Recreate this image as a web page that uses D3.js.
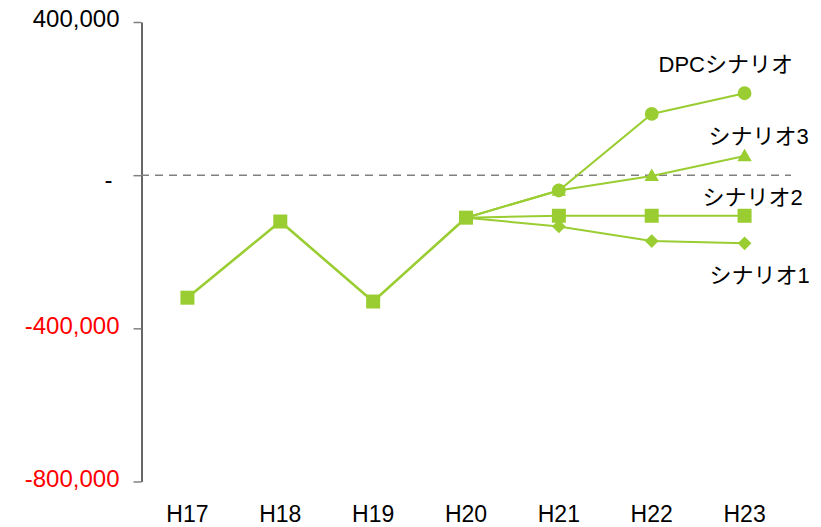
<!DOCTYPE html>
<html>
<head>
<meta charset="utf-8">
<script src="https://cdn.jsdelivr.net/npm/d3@7"></script>
<style>
  html, body { margin: 0; padding: 0; background: #fff; }
  svg { display: block; }
  text { font-family: "Liberation Sans", Arial, "Noto Sans CJK JP", sans-serif; }
</style>
</head>
<body>
<svg id="chart" width="821" height="527"></svg>
<script>
// Fiscal years on the x axis
const categories = ["H17", "H18", "H19", "H20", "H21", "H22", "H23"];
// Recorded values H17–H20, shared by all scenarios
const actual = [-320000, -121000, -330000, -111000];
// Projections H21–H23, each branching from the H20 value
const forecastYears = ["H21", "H22", "H23"];
const scenario1 = [-134000, -172000, -178000];
const scenario2 = [-106000, -106000, -106000];
const scenario3 = [-40000, -2000, 50000];
const dpcScenario = [-40000, 160000, 214000];
const seriesNames = ["シナリオ1", "シナリオ2", "シナリオ3", "DPCシナリオ"];
// Y axis ticks
const yTicks = [400000, 0, -400000, -800000];

const green = "#9acd32";
const svg = d3.select("#chart");

const x = d3.scaleBand().domain(categories).range([141, 791]).padding(0);
const y = d3.scaleLinear().domain([-800000, 400000]).range([481.5, 22]);
const cx = c => x(c) + x.bandwidth() / 2;

// Accounting-style number format: plain hyphen for negatives, "-" for zero
const fmt = d => d === 0 ? "-" : (d < 0 ? "-" : "") + d3.format(",")(Math.abs(d));

// Y axis
const yAxis = d3.axisLeft(y)
  .tickValues(yTicks)
  .tickSize(8)
  .tickSizeOuter(0)
  .tickPadding(14)
  .tickFormat(fmt);
const yg = svg.append("g").attr("transform", "translate(141.5,0)").call(yAxis);
yg.select(".domain").attr("stroke", "#000").attr("stroke-width", 1.2);
yg.selectAll(".tick line").attr("stroke", "#808080").attr("stroke-width", 1.5);
yg.selectAll(".tick text")
  .attr("font-size", 24)
  .attr("font-family", "'Liberation Sans', Arial, sans-serif")
  .attr("fill", d => d < 0 ? "#ff0000" : "#000")
  .attr("dx", d => d === 0 ? -7 : 0)
  .attr("dy", d => d === 0 ? "0.5em" : "0.2em");

// Zero reference line
svg.append("line")
  .attr("x1", 141).attr("x2", 791)
  .attr("y1", y(0)).attr("y2", y(0))
  .attr("stroke", "#808080")
  .attr("stroke-width", 1.5)
  .attr("stroke-dasharray", "8,6");

// X labels (no axis line)
const xg = svg.append("g").attr("transform", "translate(0,522)")
  .call(d3.axisBottom(x).tickSize(0).tickPadding(0));
xg.select(".domain").remove();
xg.selectAll(".tick text")
  .attr("font-size", 23)
  .attr("font-family", "'Liberation Sans', Arial, sans-serif")
  .attr("dy", 0)
  .attr("fill", "#000");

const line = d3.line().x(d => cx(d.c)).y(d => y(d.v));

// Series built from the arrays above; each projection starts at H20
const lastYear = categories[actual.length - 1];
const lastVal = actual[actual.length - 1];
const branch = vals => [{ c: lastYear, v: lastVal }].concat(vals.map((v, i) => ({ c: forecastYears[i], v })));

const projections = [
  { name: seriesNames[0], pts: branch(scenario1), shape: "diamond", dx: -35, dy: 40 },
  { name: seriesNames[1], pts: branch(scenario2), shape: "square", dx: -42, dy: -11 },
  { name: seriesNames[2], pts: branch(scenario3), shape: "triangle", dx: -36, dy: -12 },
  { name: seriesNames[3], pts: branch(dpcScenario), shape: "circle", dx: -86, dy: -21 }
];

projections.forEach(s => {
  svg.append("path").datum(s.pts)
    .attr("d", line).attr("fill", "none")
    .attr("stroke", green).attr("stroke-width", 2);
});

const history = actual.map((v, i) => ({ c: categories[i], v }));
svg.append("path").datum(history)
  .attr("d", line).attr("fill", "none")
  .attr("stroke", green).attr("stroke-width", 2.6);

const symbols = {
  diamond: d3.symbol().type(d3.symbolDiamond2).size(120),
  triangle: d3.symbol().type(d3.symbolTriangle).size(90),
  circle: d3.symbol().type(d3.symbolCircle).size(150),
  square: d3.symbol().type(d3.symbolSquare).size(196)
};

// Markers on projected years
projections.forEach(s => {
  svg.append("g").selectAll("path")
    .data(s.pts.slice(1))
    .join("path")
    .attr("d", symbols[s.shape])
    .attr("transform", d => `translate(${cx(d.c)},${y(d.v) + (s.shape === "triangle" ? 1 : 0)})`)
    .attr("fill", green);
});

// Markers on recorded years
svg.append("g").selectAll("path")
  .data(history)
  .join("path")
  .attr("d", symbols.square)
  .attr("transform", d => `translate(${cx(d.c)},${y(d.v)})`)
  .attr("fill", green);

// Series labels next to the final point
projections.forEach(s => {
  const end = s.pts[s.pts.length - 1];
  svg.append("text")
    .attr("x", cx(end.c) + s.dx)
    .attr("y", y(end.v) + s.dy)
    .attr("font-size", 22)
    .attr("fill", "#000")
    .text(s.name);
});
</script>
</body>
</html>
